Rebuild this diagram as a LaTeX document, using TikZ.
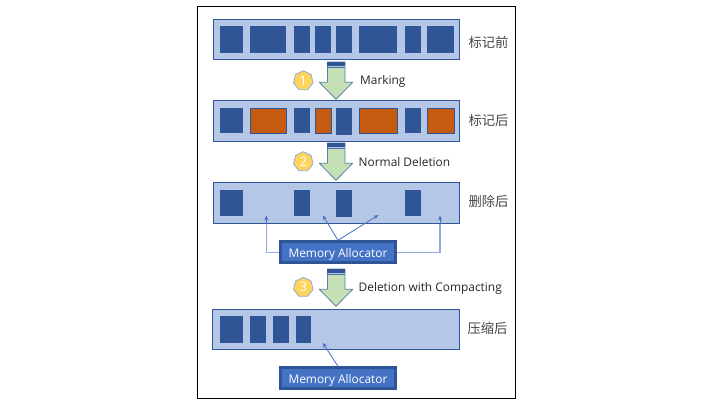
\documentclass[tikz,border=0pt]{standalone}
\usepackage{fontspec}
\setmainfont{Open Sans}
\newfontfamily\cjk{Noto Sans CJK SC}
\usetikzlibrary{shapes.geometric,arrows.meta}
\definecolor{barfill}{HTML}{B4C7E7}
\definecolor{navy}{HTML}{2F5597}
\definecolor{rust}{HTML}{C55A11}
\definecolor{mint}{HTML}{C5E0B4}
\definecolor{gold}{HTML}{FFD45C}
\definecolor{royal}{HTML}{4472C4}
\definecolor{pale}{HTML}{8FAADC}
\definecolor{arrowedge}{HTML}{5B7FA8}
\definecolor{ink}{HTML}{262626}
\tikzset{
  x=1pt,y=-1pt,
  barbox/.style={draw=navy,line width=0.9pt,fill=barfill},
  live/.style={fill=navy},
  marked/.style={fill=rust,draw=navy,line width=0.6pt},
  zh/.style={font=\cjk\fontsize{13.3}{15}\selectfont,text=ink!85,inner sep=0pt},
  en/.style={font=\fontsize{11.9}{13}\selectfont,text=ink,inner sep=0pt,anchor=west},
  badge/.style={regular polygon,regular polygon sides=7,minimum size=20pt,inner sep=0pt,
    fill=gold,draw=pale,line width=0.8pt,text=white,font=\fontsize{13}{13}\selectfont},
  alloc/.style={fill=royal,draw=navy,line width=3pt,minimum width=114.4pt,minimum height=21pt,
    inner sep=0pt,text=white,font=\fontsize{11.9}{13}\selectfont},
  link/.style={draw=royal,line width=0.8pt,-{Stealth[length=5pt,width=4pt]}},
  elbow/.style={draw=pale,line width=1.3pt},
  tip/.style={draw=royal,line width=0.8pt,-{Stealth[length=5pt,width=4pt]}},
}
\newcommand{\boxat}[6]{% style name x1 y1 x2 y2
  \pgfmathsetmacro{\cxx}{(#3+#5)/2}\pgfmathsetmacro{\cyy}{(#4+#6)/2}
  \pgfmathsetmacro{\www}{#5-#3}\pgfmathsetmacro{\hhh}{#6-#4}
  \node[#1,inner sep=0pt,outer sep=0pt,minimum width=\www pt,minimum height=\hhh pt] (#2) at (\cxx,\cyy) {};}
\newcommand{\downarrowat}[2]{% top tipy
  \pgfmathsetmacro{\headbase}{#2-17}
  \fill[mint] (327.5,#1) -- (345,#1) -- (345,\headbase) -- (352.7,\headbase) -- (336,#2) -- (319.3,\headbase) -- (327.5,\headbase) -- cycle;
  \draw[arrowedge,line width=0.8pt,line join=round] (327.5,#1) -- (345,#1) -- (345,\headbase) -- (352.7,\headbase) -- (336,#2) -- (319.3,\headbase) -- (327.5,\headbase) -- cycle;
  \fill[navy] (327.2,#1) rectangle (345.3,#1+3.6);
  \fill[barfill] (327.6,#1+3.6) rectangle (344.9,#1+4.6);
  \fill[navy!85] (327.2,#1+4.6) rectangle (345.3,#1+5.6);
}
\begin{document}
\begin{tikzpicture}
\useasboundingbox (0,0) rectangle (720,405);
\fill[white] (0,0) rectangle (720,405);
\draw[black,line width=1pt] (197,6.3) rectangle (515,398.3);

% bar 1
\boxat{barbox}{barA}{213.3}{19.3}{459.7}{59.3}
\boxat{live}{a1}{220}{26}{243}{52.7}
\boxat{live}{a2}{250}{26}{286}{52.7}
\boxat{live}{a3}{294}{26}{310}{52.7}
\boxat{live}{a4}{315}{26}{331}{52.7}
\boxat{live}{a5}{336}{26}{352}{52.7}
\boxat{live}{a6}{359}{26}{397}{52.7}
\boxat{live}{a7}{405}{26}{421}{52.7}
\boxat{live}{a8}{427}{26}{454}{52.7}
\node[zh] (la) at (488.5,42) {标记前};

% bar 2
\boxat{barbox}{barB}{213.3}{100.3}{459.7}{141.3}
\boxat{live}{b1}{220}{108}{243}{133.3}
\boxat{marked}{b2}{250}{108}{286}{133.3}
\boxat{live}{b3}{294}{108}{310}{133.3}
\boxat{marked}{b4}{315}{108}{331}{133.3}
\boxat{live}{b5}{336}{108}{352}{135}
\boxat{marked}{b6}{359}{108}{397}{133.3}
\boxat{live}{b7}{405}{108}{421}{133.3}
\boxat{marked}{b8}{427}{108}{454}{133.3}
\node[zh] (lb) at (488.5,120) {标记后};

% bar 3
\boxat{barbox}{barC}{213.3}{182.3}{459.7}{223.3}
\boxat{live}{c1}{220}{190}{243}{216}
\boxat{live}{c2}{294}{190}{310}{216}
\boxat{live}{c3}{336}{190}{352}{217}
\boxat{live}{c4}{405}{190}{421}{216}
\node[zh] (lc) at (488.5,201) {删除后};

% bar 4
\boxat{barbox}{barD}{212.5}{309.3}{459.7}{349.3}
\boxat{live}{d1}{220}{316}{243}{342.7}
\boxat{live}{d2}{250}{316}{266}{342.7}
\boxat{live}{d3}{273}{316}{289}{342.7}
\boxat{live}{d4}{296}{316}{311}{342.7}
\node[zh] (ld) at (487.5,328) {压缩后};

% block arrows
\downarrowat{62}{99.3}
\downarrowat{143}{180.3}
\downarrowat{269}{306.3}

% badges
\node[badge] (s1) at (303.3,80.7) {1};
\node[badge] (s2) at (303.3,161.7) {2};
\node[badge] (s3) at (303.3,287.3) {3};

\node[en] (t1) at (360,81) {Marking};
\node[en] (t2) at (358.5,162) {Normal Deletion};
\node[en] (t3) at (358.5,288) {Deletion with Compacting};

% allocators
\node[alloc] (m1) at (338,252.3) {\raisebox{-5.2pt}[0pt][0pt]{Memory Allocator}};
\node[alloc] (m2) at (338,378.3) {\raisebox{-5.2pt}[0pt][0pt]{Memory Allocator}};

% free-space pointers
\coordinate (f1) at (266.3,215.5);
\coordinate (f2) at (322.7,215.3);
\coordinate (f3) at (378.5,215);
\coordinate (f4) at (440,215.5);
\coordinate (f5) at (322.7,342.7);

\draw[elbow] (m1.west) -| (266.3,224);
\draw[elbow] (m1.east) -| (440,224);
\draw[tip] (266.3,224) -- (f1);
\draw[tip] (440,224) -- (f4);
\draw[link] (m1.north) -- (f2);
\draw[link] (m1.north) -- (f3);
\draw[link] (m2.north) -- (f5);
\end{tikzpicture}
\end{document}
